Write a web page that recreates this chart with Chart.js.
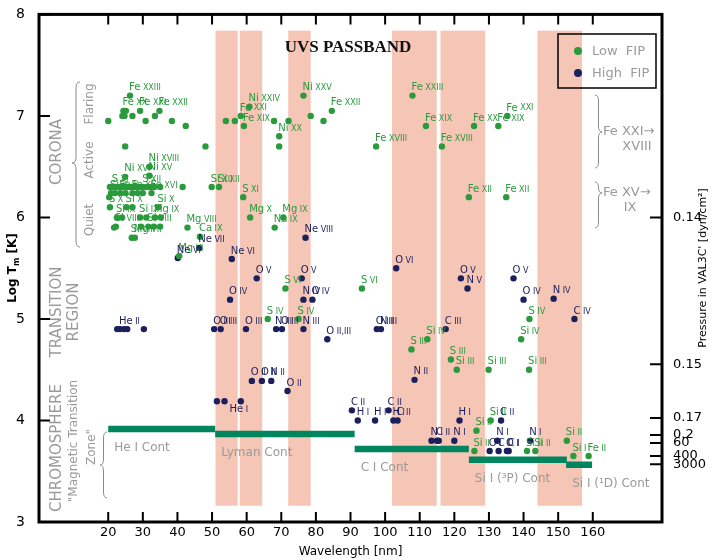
<!DOCTYPE html>
<html>
<head>
<meta charset="utf-8">
<script src="https://cdn.jsdelivr.net/npm/chart.js@4.4.1/dist/chart.umd.min.js"></script>
<style>
  html, body { margin: 0; padding: 0; background: #fff; }
  #wrap { width: 718px; height: 560px; }
</style>
</head>
<body>
<div id="wrap"><canvas id="chart" width="718" height="560"></canvas></div>
<script>
// [wavelength nm, log Tm, label]
const lowFip = [
  // flaring corona
  [20.0, 6.95, ''], [24.1, 7.00, ''], [24.4, 7.05, 'Fe XX'], [24.7, 7.00, ''], [25.1, 7.05, ''],
  [26.3, 7.20, 'Fe XXIII'], [27.0, 7.00, ''], [29.2, 7.05, 'Fe XXI'], [30.8, 6.95, ''], [33.5, 7.00, ''],
  [34.8, 7.05, 'Fe XXII'], [38.4, 6.95, ''], [42.4, 6.90, ''], [24.9, 6.70, ''], [48.1, 6.70, ''],
  [54.0, 6.95, ''], [56.6, 6.95, ''], [58.3, 7.00, 'Fe XXI'], [59.2, 6.90, 'Fe XIX'], [60.8, 7.09, 'Ni XXIV'],
  [67.9, 6.95, ''], [69.4, 6.80, 'Ni XX'], [69.4, 6.70, ''], [72.1, 6.95, ''], [76.4, 7.20, 'Ni XXV'],
  [78.5, 7.00, ''], [82.2, 6.95, ''], [84.6, 7.05, 'Fe XXII'], [97.4, 6.70, 'Fe XVIII'], [107.9, 7.20, 'Fe XXIII'],
  [111.8, 6.90, 'Fe XIX'], [116.4, 6.70, 'Fe XVIII'], [125.7, 6.90, 'Fe XX'], [132.7, 6.90, 'Fe XIX'], [135.3, 7.00, 'Fe XXI'],
  // active / quiet corona
  [31.9, 6.50, 'Ni XVIII'], [24.9, 6.40, 'Ni XVI'], [31.9, 6.41, 'Ni XV'],
  [20.5, 6.30, ''], [21.3, 6.30, 'S XI'], [22.3, 6.30, ''], [23.2, 6.30, ''], [24.2, 6.30, ''], [25.3, 6.30, ''],
  [26.3, 6.30, ''], [27.2, 6.30, ''], [28.2, 6.30, ''], [29.3, 6.30, ''], [30.1, 6.30, 'S XII'], [31.3, 6.30, ''],
  [32.3, 6.30, ''], [33.3, 6.30, ''], [35.0, 6.30, ''], [41.5, 6.30, ''],
  [20.8, 6.24, 'Si X'], [22.0, 6.24, ''], [23.5, 6.24, 'Fe X'], [25.0, 6.24, ''], [27.0, 6.24, 'Fe XI'],
  [28.5, 6.24, ''], [30.0, 6.24, ''], [32.5, 6.24, 'Fe XVI'], [20.3, 6.20, ''],
  [20.5, 6.10, 'S X'], [25.3, 6.10, 'Si X'], [27.0, 6.10, ''], [34.5, 6.10, 'Si X'],
  [22.5, 6.00, 'Si IX'], [24.0, 6.00, ''], [29.2, 6.00, 'Si IX'], [31.0, 6.00, ''], [33.5, 6.00, 'Mg IX'], [35.2, 6.00, ''],
  [21.7, 5.90, ''], [22.2, 5.91, 'Si VIII'], [29.5, 5.91, ''], [31.6, 5.91, 'Si VIII'], [33.2, 5.91, ''], [35.0, 5.91, ''],
  [42.9, 5.90, 'Mg VIII'], [26.8, 5.80, 'Si VII'], [27.7, 5.80, 'Mg VII'], [46.5, 5.81, 'Ca IX'], [40.5, 5.62, 'Mg VI'],
  [49.9, 6.30, 'Si XII'], [52.0, 6.30, 'Si XII'], [59.0, 6.20, 'S XI'], [61.0, 6.00, 'Mg X'], [70.6, 6.00, 'Mg IX'],
  [68.1, 5.90, 'Na IX'], [124.2, 6.20, 'Fe XII'], [135.0, 6.20, 'Fe XII'],
  // transition region
  [71.2, 5.30, 'S VI'], [93.3, 5.30, 'S VI'], [66.1, 5.00, 'S IV'], [75.0, 5.00, 'S IV'], [107.6, 4.70, 'S III'],
  [112.2, 4.80, 'Si IV'], [141.7, 5.00, 'S IV'], [139.3, 4.80, 'Si IV'], [119.0, 4.60, 'S III'], [120.7, 4.50, 'Si III'],
  [129.9, 4.50, 'Si III'], [141.6, 4.50, 'Si III'],
  // chromosphere
  [126.4, 3.90, 'Si II'], [130.5, 4.00, 'Si II'], [125.8, 3.70, 'Si II'], [141.0, 3.70, 'Si II'], [143.4, 3.70, 'Si II'],
  [152.5, 3.80, 'Si II'], [154.4, 3.65, 'Si I'], [158.8, 3.65, 'Fe II']
];

const highFip = [
  [22.6, 4.90, ''], [23.4, 4.90, 'He II'], [24.6, 4.90, ''], [25.5, 4.90, ''], [30.3, 4.90, ''],
  [40.1, 5.60, 'Ne VI'], [46.3, 5.70, 'Ne VII'], [55.7, 5.59, 'Ne VI'], [77.0, 5.80, 'Ne VIII'],
  [62.9, 5.40, 'O V'], [75.9, 5.40, 'O V'], [55.2, 5.19, 'O IV'], [76.4, 5.19, 'N IV'], [79.0, 5.19, 'O IV'],
  [50.6, 4.90, 'O III'], [52.5, 4.90, 'O III'], [59.8, 4.90, 'O III'], [68.5, 4.90, 'N III'], [70.2, 4.90, 'O III'],
  [76.4, 4.90, 'N III'], [83.3, 4.80, 'O II,III'], [97.6, 4.90, 'O III'], [98.8, 4.90, 'N III'],
  [103.2, 5.50, 'O VI'], [121.9, 5.40, 'O V'], [123.8, 5.30, 'N V'], [137.1, 5.40, 'O V'], [140.0, 5.19, 'O IV'],
  [148.7, 5.20, 'N IV'], [154.7, 5.00, 'C IV'], [117.5, 4.90, 'C III'],
  [61.5, 4.39, 'O II'], [64.4, 4.39, 'O II'], [67.1, 4.39, 'N II'], [71.8, 4.29, 'O II'], [108.5, 4.40, 'N II'],
  [51.4, 4.19, ''], [53.6, 4.19, 'He I'], [58.3, 4.19, ''],
  [90.4, 4.10, 'C II'], [92.1, 4.00, 'H I'], [97.1, 4.00, 'H I'], [101.0, 4.10, 'C II'], [102.4, 4.00, 'H I'],
  [103.6, 4.00, 'C II'], [121.5, 4.00, 'H I'], [133.5, 4.00, 'C II'],
  [113.4, 3.80, 'N I'], [115.0, 3.80, 'C II'], [115.5, 3.80, ''], [120.0, 3.80, 'N I'], [132.4, 3.80, 'N I'],
  [141.9, 3.80, 'N I'], [130.2, 3.70, 'O I'], [132.8, 3.70, 'C I'], [135.2, 3.70, 'O I'], [135.7, 3.70, 'C I']
];

// UVS passband windows (nm) and their vertical extent (log T)
const passStart = [51.0, 58.0, 72.0, 102.0, 116.0, 144.0];
const passEnd = [57.4, 64.5, 78.5, 114.9, 128.9, 156.9];
const passTop = 7.84;
const passBottom = 3.16;

// continua
const contNames = ['He I Cont', 'Lyman Cont', 'C I Cont', 'Si I (\u00B3P) Cont', 'Si I (\u00B9D) Cont'];
const contStart = [20.0, 50.9, 91.2, 124.2, 152.3];
const contEnd = [50.9, 91.2, 124.2, 152.5, 159.8];
const contLevel = [3.915, 3.866, 3.718, 3.613, 3.564];

const xTicks = [20, 30, 40, 50, 60, 70, 80, 90, 100, 110, 120, 130, 140, 150, 160];
const yTicks = [3, 4, 5, 6, 7, 8];
const pressureLabels = ['0.14', '0.15', '0.17', '0.2', '60', '400', '3000'];
const pressureAt = [6.0, 4.555, 4.024, 3.856, 3.778, 3.65, 3.57];

const GREEN = '#2a9a3c';
const NAVY = '#1b1f5c';
const TEAL = '#00855f';
const PINK = '#f5c5b5';
const GREY = '#9a9a9a';
const FONT = '"DejaVu Sans", sans-serif';

// label: element normal size, ionisation stage smaller
function ionLabel(ctx, text, x, y, color) {
  const i = text.indexOf(' ');
  const el = i < 0 ? text : text.slice(0, i);
  const ion = i < 0 ? '' : text.slice(i + 1);
  ctx.fillStyle = color;
  ctx.textAlign = 'left';
  ctx.textBaseline = 'middle';
  ctx.font = '10px ' + FONT;
  ctx.fillText(el, x, y);
  const w = ctx.measureText(el).width;
  ctx.font = '8px ' + FONT;
  ctx.fillText(ion, x + w + 2.5, y + 0.5);
}

function vText(ctx, text, x, y, font, color) {
  ctx.save();
  ctx.translate(x, y);
  ctx.rotate(-Math.PI / 2);
  ctx.font = font;
  ctx.fillStyle = color;
  ctx.textAlign = 'center';
  ctx.textBaseline = 'middle';
  ctx.fillText(text, 0, 0);
  ctx.restore();
}

// curly brace, w < 0 puts the tip on the left
function brace(ctx, x, y1, y2, ym, w) {
  const r = 6;
  const xm = x + w / 2;
  ctx.beginPath();
  ctx.moveTo(x, y1);
  ctx.quadraticCurveTo(xm, y1, xm, y1 + r);
  ctx.lineTo(xm, ym - r);
  ctx.quadraticCurveTo(xm, ym, x + w, ym);
  ctx.quadraticCurveTo(xm, ym, xm, ym + r);
  ctx.lineTo(xm, y2 - r);
  ctx.quadraticCurveTo(xm, y2, x, y2);
  ctx.stroke();
}

const labelsBelow = ['He I'];

const decorPlugin = {
  id: 'decor',
  beforeDatasetsDraw(chart) {
    const { ctx, scales: { x, y } } = chart;
    ctx.save();
    ctx.fillStyle = PINK;
    passStart.forEach((s, i) => {
      const x0 = x.getPixelForValue(s);
      const x1 = x.getPixelForValue(passEnd[i]);
      const y0 = y.getPixelForValue(passTop);
      const y1 = y.getPixelForValue(passBottom);
      ctx.fillRect(x0, y0, x1 - x0, y1 - y0);
    });
    ctx.restore();
  },
  afterDatasetsDraw(chart) {
    const { ctx, scales: { x, y } } = chart;
    ctx.save();

    // line labels
    [[lowFip, 0, GREEN], [highFip, 1, NAVY]].forEach(([rows, idx, col]) => {
      const meta = chart.getDatasetMeta(idx);
      rows.forEach((r, j) => {
        if (!r[2]) return;
        const p = meta.data[j];
        if (labelsBelow.includes(r[2])) ionLabel(ctx, r[2], p.x + 5, p.y + 8, col);
        else ionLabel(ctx, r[2], p.x - 1, p.y - 8, col);
      });
    });

    // continuum labels
    ctx.font = '12px ' + FONT;
    ctx.fillStyle = GREY;
    ctx.textAlign = 'left';
    ctx.textBaseline = 'middle';
    contNames.forEach((n, i) => {
      ctx.fillText(n, x.getPixelForValue(contStart[i]) + 6, y.getPixelForValue(contLevel[i]) + 19);
    });

    // passband title
    ctx.font = 'bold 17px "Liberation Serif", serif';
    ctx.fillStyle = '#111';
    ctx.textAlign = 'center';
    ctx.fillText('UVS PASSBAND', 348, 48);

    // region annotations on the left
    vText(ctx, 'CORONA', 57, 152, '15px ' + FONT, GREY);
    vText(ctx, 'Flaring', 90, 104, '12px ' + FONT, GREY);
    vText(ctx, 'Active', 90, 160, '12px ' + FONT, GREY);
    vText(ctx, 'Quiet', 90, 220, '12px ' + FONT, GREY);
    vText(ctx, 'TRANSITION', 57, 312, '15px ' + FONT, GREY);
    vText(ctx, 'REGION', 74, 312, '15px ' + FONT, GREY);
    vText(ctx, 'CHROMOSPHERE', 57, 448, '15px ' + FONT, GREY);
    vText(ctx, '"Magnetic Transition', 74, 441, '12px ' + FONT, GREY);
    vText(ctx, 'Zone"', 92, 447, '12px ' + FONT, GREY);

    ctx.strokeStyle = '#8a8a8a';
    ctx.lineWidth = 1;
    brace(ctx, 80, 82, 247, 163, -8);
    brace(ctx, 107, 432, 498, 465, -7);
    brace(ctx, 595, 95, 168, 132, 7);
    brace(ctx, 595, 182, 228, 193, 7);

    ctx.font = '13px ' + FONT;
    ctx.fillStyle = GREY;
    ctx.textAlign = 'left';
    ctx.fillText('Fe XXI\u2192', 603, 132);
    ctx.fillText('Fe XV\u2192', 603, 193);
    ctx.textAlign = 'center';
    ctx.fillText('XVIII', 637, 147);
    ctx.fillText('IX', 630, 208);

    // legend
    ctx.strokeStyle = '#000';
    ctx.lineWidth = 1.5;
    ctx.strokeRect(558, 34, 98, 54);
    [[GREEN, 'Low  FIP', 51], [NAVY, 'High  FIP', 73]].forEach(([c, t, ly]) => {
      ctx.fillStyle = c;
      ctx.beginPath();
      ctx.arc(578, ly, 4, 0, Math.PI * 2);
      ctx.fill();
      ctx.fillStyle = GREY;
      ctx.textAlign = 'left';
      ctx.font = '13px ' + FONT;
      ctx.fillText(t, 592, ly + 1);
    });

    ctx.restore();
  },
  afterDraw(chart) {
    const { ctx, chartArea: a, scales: { x, y } } = chart;
    ctx.save();
    ctx.strokeStyle = '#000';
    ctx.lineWidth = 2;
    ctx.beginPath();
    xTicks.forEach(v => {
      const px = x.getPixelForValue(v);
      ctx.moveTo(px, a.bottom); ctx.lineTo(px, a.bottom - 10);
      ctx.moveTo(px, a.top); ctx.lineTo(px, a.top + 10);
    });
    yTicks.forEach(v => {
      const py = y.getPixelForValue(v);
      ctx.moveTo(a.left, py); ctx.lineTo(a.left + 11, py);
    });
    pressureAt.forEach(v => {
      const py = y.getPixelForValue(v);
      ctx.moveTo(a.right, py); ctx.lineTo(a.right - 12, py);
    });
    ctx.stroke();
    ctx.lineWidth = 3;
    ctx.strokeRect(a.left, a.top, a.right - a.left, a.bottom - a.top);

    // axis titles
    ctx.fillStyle = '#000';
    ctx.textBaseline = 'middle';
    ctx.textAlign = 'center';
    ctx.font = '12px ' + FONT;
    ctx.fillText('Wavelength [nm]', (a.left + a.right) / 2, 552);

    // Log T_m [K]
    ctx.save();
    ctx.translate(13, 268);
    ctx.rotate(-Math.PI / 2);
    const big = 'bold 12px ' + FONT, small = 'bold 8px ' + FONT;
    ctx.font = big; const w1 = ctx.measureText('Log T').width;
    ctx.font = small; const w2 = ctx.measureText('m').width;
    ctx.font = big; const w3 = ctx.measureText(' [K]').width;
    const sx = -(w1 + w2 + w3) / 2;
    ctx.textAlign = 'left';
    ctx.font = big; ctx.fillText('Log T', sx, 0);
    ctx.font = small; ctx.fillText('m', sx + w1, 4);
    ctx.font = big; ctx.fillText(' [K]', sx + w1 + w2, 0);
    ctx.restore();

    vText(ctx, 'Pressure in VAL3C\' [dyn/cm\u00B2]', 703, 268, '11px ' + FONT, '#000');
    ctx.restore();
  }
};

const pointSet = rows => rows.map(r => ({ x: r[0], y: r[1] }));

new Chart(document.getElementById('chart'), {
  type: 'scatter',
  data: {
    datasets: [
      { label: 'Low FIP', data: pointSet(lowFip), backgroundColor: GREEN, pointRadius: 3.2, borderWidth: 0 },
      { label: 'High FIP', data: pointSet(highFip), backgroundColor: NAVY, pointRadius: 3.2, borderWidth: 0 },
      ...contNames.map((n, i) => ({
        label: n,
        data: [{ x: contStart[i], y: contLevel[i] }, { x: contEnd[i], y: contLevel[i] }],
        showLine: true,
        borderColor: TEAL,
        borderWidth: 6.5,
        borderCapStyle: 'butt',
        pointRadius: 0
      }))
    ]
  },
  options: {
    responsive: false,
    animation: false,
    events: [],
    layout: { padding: 0 },
    plugins: { legend: { display: false }, tooltip: { enabled: false } },
    scales: {
      x: {
        type: 'linear', position: 'bottom', min: 0, max: 180,
        afterBuildTicks: s => { s.ticks = xTicks.map(v => ({ value: v })); },
        afterFit: s => { s.height = 38; },
        grid: { display: false }, border: { display: false },
        ticks: { color: '#000', font: { family: FONT, size: 13 }, padding: -5, maxRotation: 0, autoSkip: false }
      },
      xTop: {
        type: 'linear', position: 'top', min: 0, max: 180,
        afterFit: s => { s.height = 14; },
        grid: { display: false }, border: { display: false },
        ticks: { display: false }
      },
      y: {
        type: 'linear', position: 'left', min: 3, max: 8,
        afterBuildTicks: s => { s.ticks = yTicks.map(v => ({ value: v })); },
        afterFit: s => { s.width = 39; },
        grid: { display: false }, border: { display: false },
        ticks: { color: '#000', font: { family: FONT, size: 14 }, padding: 6 }
      },
      yRight: {
        type: 'linear', position: 'right', min: 3, max: 8,
        afterBuildTicks: s => { s.ticks = pressureAt.map(v => ({ value: v })); },
        afterFit: s => { s.width = 56; },
        grid: { display: false }, border: { display: false },
        ticks: {
          color: '#000', font: { family: FONT, size: 13 }, padding: 3, autoSkip: false,
          callback: (v, i) => pressureLabels[i]
        }
      }
    }
  },
  plugins: [decorPlugin]
});
</script>
</body>
</html>
